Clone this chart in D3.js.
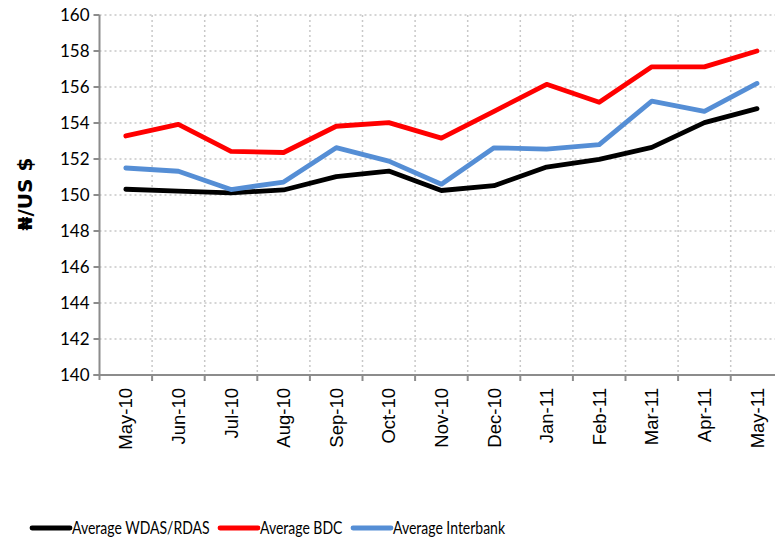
<!DOCTYPE html>
<html lang="en">
<head>
  <meta charset="UTF-8" />
  <title>Naira exchange rates</title>
  <style>
    body { margin: 0; background: #fff; }
    svg { display: block; }
    .ytick { font-family: Lato, 'Open Sans', sans-serif; font-size: 17px; fill: #000; }
    .xtick { font-family: 'Liberation Sans', Arial, sans-serif; font-size: 18.5px; fill: #000; }
    .legend { font-family: Lato, 'Open Sans', sans-serif; font-size: 17.5px; fill: #000; }
  </style>
</head>
<body>
  <div id="chart"></div>
  <script src="https://d3js.org/d3.v7.min.js"></script>
  <script>
    const months = ["May-10", "Jun-10", "Jul-10", "Aug-10", "Sep-10", "Oct-10", "Nov-10",
                    "Dec-10", "Jan-11", "Feb-11", "Mar-11", "Apr-11", "May-11"];
    const wdas = [150.32, 150.22, 150.12, 150.28, 151.02, 151.33, 150.25, 150.52, 151.55, 151.98, 152.65, 154.02, 154.8];
    const bdc = [153.28, 153.92, 152.42, 152.36, 153.82, 154.02, 153.16, 154.65, 156.15, 155.15, 157.12, 157.12, 158.0];
    const interbank = [151.5, 151.32, 150.3, 150.72, 152.63, 151.88, 150.6, 152.62, 152.55, 152.8, 155.22, 154.65, 156.2];
    const yTicks = [140, 142, 144, 146, 148, 150, 152, 154, 156, 158, 160];

    const series = [
      { name: "Average WDAS/RDAS", values: wdas, color: "#000000" },
      { name: "Average BDC", values: bdc, color: "#ff0000" },
      { name: "Average Interbank", values: interbank, color: "#558ed5" }
    ];

    const width = 775, height = 542;
    const plotLeft = 99.5, plotRight = 783.3, plotTop = 15, plotBottom = 375;

    const svg = d3.select("#chart").append("svg")
      .attr("width", width)
      .attr("height", height);

    const x = d3.scaleBand().domain(months).range([plotLeft, plotRight]);
    const y = d3.scaleLinear().domain([140, 160]).range([plotBottom, plotTop]);

    // horizontal grid
    svg.selectAll(".hgrid")
      .data(yTicks.slice(1))
      .enter().append("line")
      .attr("x1", plotLeft).attr("x2", plotRight)
      .attr("y1", d => y(d)).attr("y2", d => y(d))
      .style("stroke", "#c8c8c8")
      .style("stroke-width", 1.5)
      .style("stroke-dasharray", "2,3");

    // vertical grid at category boundaries
    svg.selectAll(".vgrid")
      .data(months.slice(1))
      .enter().append("line")
      .attr("x1", d => x(d)).attr("x2", d => x(d))
      .attr("y1", plotTop).attr("y2", plotBottom)
      .style("stroke", "#c8c8c8")
      .style("stroke-width", 1.5)
      .style("stroke-dasharray", "2,3");

    // axes
    svg.append("line")
      .attr("x1", plotLeft).attr("x2", plotLeft)
      .attr("y1", plotTop).attr("y2", plotBottom + 5)
      .style("stroke", "#8c8c8c").style("stroke-width", 2);
    svg.append("line")
      .attr("x1", plotLeft - 6).attr("x2", plotRight)
      .attr("y1", plotBottom).attr("y2", plotBottom)
      .style("stroke", "#8c8c8c").style("stroke-width", 2);

    svg.selectAll(".ytickmark")
      .data(yTicks)
      .enter().append("line")
      .attr("x1", plotLeft - 6).attr("x2", plotLeft)
      .attr("y1", d => y(d)).attr("y2", d => y(d))
      .style("stroke", "#8c8c8c").style("stroke-width", 2);

    svg.selectAll(".xtickmark")
      .data(months.slice(1))
      .enter().append("line")
      .attr("x1", d => x(d)).attr("x2", d => x(d))
      .attr("y1", plotBottom).attr("y2", plotBottom + 6)
      .style("stroke", "#8c8c8c").style("stroke-width", 2);

    svg.selectAll(".ytick")
      .data(yTicks)
      .enter().append("text")
      .attr("class", "ytick")
      .attr("x", plotLeft - 10)
      .attr("y", d => y(d))
      .attr("dy", "0.35em")
      .attr("text-anchor", "end")
      .text(d => d);

    svg.selectAll(".xtick")
      .data(months)
      .enter().append("text")
      .attr("class", "xtick")
      .attr("transform", d => `translate(${x(d) + x.bandwidth() / 2 + 6.5},${plotBottom + 13}) rotate(-90)`)
      .attr("text-anchor", "end")
      .text(d => d);

    // y axis title
    svg.append("text")
      .attr("transform", `translate(32,194) rotate(-90)`)
      .attr("text-anchor", "middle")
      .style("font-family", "'DejaVu Sans', sans-serif")
      .style("font-weight", "bold")
      .style("font-size", "20px")
      .text("₦/US $");

    // lines
    const line = d3.line()
      .x((d, i) => x(months[i]) + x.bandwidth() / 2)
      .y(d => y(d));

    svg.selectAll(".series")
      .data(series)
      .enter().append("path")
      .attr("d", d => line(d.values))
      .style("fill", "none")
      .style("stroke", d => d.color)
      .style("stroke-width", 4.8)
      .style("stroke-linejoin", "round")
      .style("stroke-linecap", "round");

    // legend (text squeezed horizontally to mimic a narrow face)
    const legendX = [32, 220, 353];
    const lg = svg.selectAll(".lg")
      .data(series)
      .enter().append("g")
      .attr("transform", (d, i) => `translate(${legendX[i]},528)`);
    lg.append("line")
      .attr("x1", 0).attr("x2", 38)
      .style("stroke", d => d.color)
      .style("stroke-width", 4.8)
      .style("stroke-linecap", "round");
    lg.append("text")
      .attr("class", "legend")
      .attr("transform", "translate(40,0) scale(0.8,1)")
      .attr("dy", "0.35em")
      .text(d => d.name);
  </script>
</body>
</html>
